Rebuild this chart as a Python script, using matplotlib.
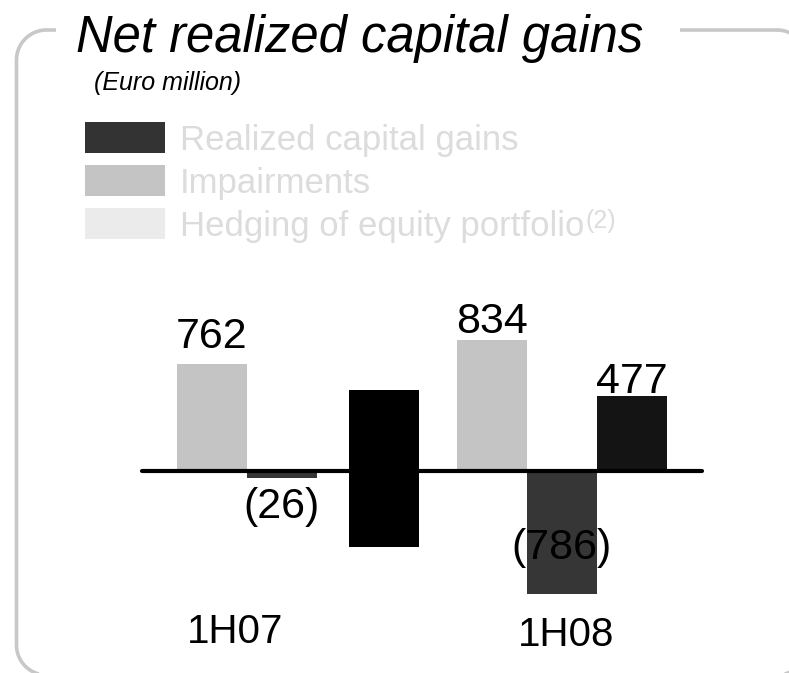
import numpy as np
import matplotlib.pyplot as plt
from matplotlib.patches import Rectangle

plt.rcParams['font.family'] = ['Liberation Sans', 'DejaVu Sans']

# data
series = ['Realized capital gains', 'Impairments', 'Hedging of equity portfolio']
series_colors = ['#333333', '#c4c4c4', '#ebebeb']
periods = ['1H07', '1H08']
bar_labels = ['762', '(26)', '', '834', '(786)', '477']
bar_low = [0, -48, -541, 0, -876, 0]
bar_high = [762, 0, 577, 933, 0, 534]
bar_slot = [1, 2, 3.45, 5, 6, 7]
bar_colors = ['#c4c4c4', '#363636', '#000000', '#c4c4c4', '#363636', '#141414']

W, H = 789, 673
fig = plt.figure(figsize=(W / 100, H / 100), dpi=100)

# background axes in pixel units (y down)
bg = fig.add_axes([0, 0, 1, 1])
bg.set_xlim(0, W)
bg.set_ylim(H, 0)
bg.axis('off')

# rounded frame as an open line (gap left for the title)
L, T, R, B, rad = 16.5, 30, 807, 675, 30


def arc(cx, cy, a0, a1):
    t = np.radians(np.linspace(a0, a1, 30))
    return list(cx + rad * np.cos(t)), list(cy + rad * np.sin(t))


xs, ys = [56], [T]
for cx, cy, a0, a1 in [(L + rad, T + rad, -90, -180), (L + rad, B - rad, 180, 90),
                       (R - rad, B - rad, 90, 0), (R - rad, T + rad, 0, -90)]:
    ax_, ay_ = arc(cx, cy, a0, a1)
    xs += ax_
    ys += ay_
xs.append(680)
ys.append(T)
bg.plot(xs, ys, color='#c8c8c8', lw=2.6, solid_capstyle='butt')

bg.text(76, 52, 'Net realized capital gains', fontsize=36.5, style='italic',
        va='baseline', zorder=3)
bg.text(94, 90, '(Euro million)', fontsize=18, style='italic', va='baseline')

# legend
txt = None
for i, (name, c) in enumerate(zip(series, series_colors)):
    y0 = 122 + i * 43
    bg.add_patch(Rectangle((85, y0), 80, 31, fc=c, ec='none'))
    txt = bg.text(180, y0 + 28, name, fontsize=25, color='#dcdcdc', va='baseline')

fig.canvas.draw()
r = fig.canvas.get_renderer()
bb = txt.get_window_extent(renderer=r)
x_end = bg.transData.inverted().transform((bb.x1, bb.y0))[0]
bg.text(x_end + 1, 228, '(2)', fontsize=18, color='#dcdcdc', va='baseline')

# bars
k = 762 / 107
ax = fig.add_axes([142 / W, (H - 620) / H, 560 / W, 320 / H])
ax.set_xlim(0, 8)
ax.set_ylim(-(620 - 471) * k, (471 - 300) * k)
ax.axis('off')
ax.patch.set_visible(False)

heights = np.array(bar_high) - np.array(bar_low)
ax.bar(bar_slot, heights, bottom=bar_low, width=1.0, color=bar_colors, zorder=2)
ax.axhline(0, color='black', lw=3, solid_capstyle='round', zorder=3, clip_on=False)

label_dy = [16, -40, 0, 7, 35, 3]
for x, lbl, lo, hi, dy in zip(bar_slot, bar_labels, bar_low, bar_high, label_dy):
    if not lbl:
        continue
    anchor = hi if hi > 0 else lo
    ax.annotate(lbl, (x, anchor), xytext=(0, dy), textcoords='offset pixels',
                ha='center', va='baseline', fontsize=31, zorder=4)

period_x = [235, 566]
period_y = [643, 646]
for p, px, py in zip(periods, period_x, period_y):
    bg.text(px, py, p, fontsize=29, ha='center', va='baseline')

fig.savefig('out.png', dpi=100)
